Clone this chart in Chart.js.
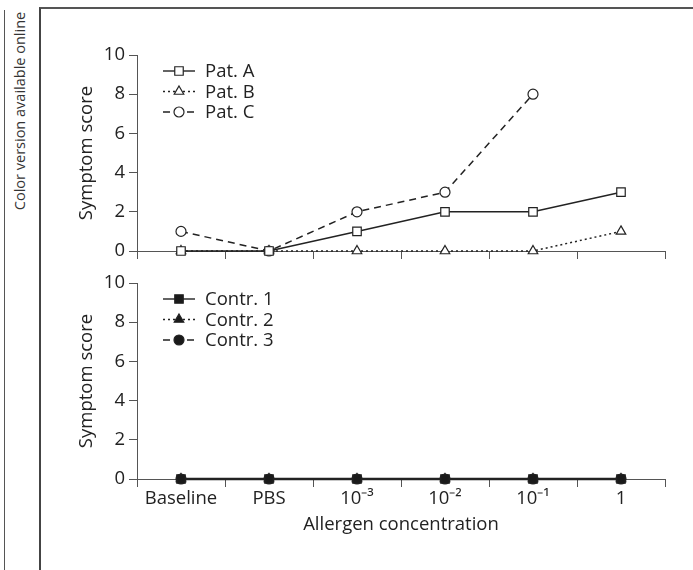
<!DOCTYPE html>
<html>
<head>
<meta charset="utf-8">
<script src="https://cdn.jsdelivr.net/npm/chart.js@4/dist/chart.umd.min.js"></script>
<style>
  body { margin: 0; background: #fff; width: 693px; height: 570px; overflow: hidden; position: relative; font-family: "Open Sans", sans-serif; }
  #strip { position: absolute; left: 4px; top: 10px; height: 570px; border-left: 1.5px solid #555; }
  #frame { position: absolute; left: 39px; top: 7px; width: 660px; height: 570px; border-left: 2px solid #444; border-top: 2px solid #555; }
  #note { position: absolute; left: 19px; top: 111px; transform: translate(-50%, -50%) rotate(-90deg); white-space: nowrap; font-size: 14.5px; color: #333; }
  canvas { position: absolute; left: 0; }
  #upper { top: 0; }
  #lower { top: 260px; }
</style>
</head>
<body>
<div id="strip"></div>
<div id="frame"></div>
<div id="note">Color version available online</div>
<canvas id="upper" width="693" height="290"></canvas>
<canvas id="lower" width="693" height="310"></canvas>
<script>
const categories = ["Baseline", "PBS", "10⁻³", "10⁻²", "10⁻¹", "1"];
const yTicks = [0, 2, 4, 6, 8, 10];

const patA = [0, 0, 1, 2, 2, 3];
const patB = [0, 0, 0, 0, 0, 1];
const patC = [1, 0, 2, 3, 8, null];

const contr1 = [0, 0, 0, 0, 0, 0];
const contr2 = [0, 0, 0, 0, 0, 0];
const contr3 = [0, 0, 0, 0, 0, 0];

const FONT = { family: "'Open Sans', sans-serif", size: 18.5 };
const INK = "#222";
const AXIS = "#555";

function serie(label, data, dash, style, radius, fill, width) {
  return {
    label: label,
    data: data,
    borderColor: INK,
    borderWidth: width,
    borderDash: dash,
    pointStyle: style,
    pointRadius: radius,
    pointBackgroundColor: fill,
    pointBorderColor: INK,
    pointBorderWidth: 1.2,
    clip: false,
    spanGaps: false
  };
}

function drawMarker(ctx, style, x, y, r, fill) {
  ctx.beginPath();
  if (style === "rect") {
    const s = r * Math.SQRT1_2;
    ctx.rect(x - s, y - s, 2 * s, 2 * s);
  } else if (style === "triangle") {
    let a = 0;
    ctx.moveTo(x + Math.sin(a) * r, y - Math.cos(a) * r);
    a += 2 * Math.PI / 3;
    ctx.lineTo(x + Math.sin(a) * r, y - Math.cos(a) * r);
    a += 2 * Math.PI / 3;
    ctx.lineTo(x + Math.sin(a) * r, y - Math.cos(a) * r);
    ctx.closePath();
  } else {
    ctx.arc(x, y, r, 0, 2 * Math.PI);
  }
  ctx.fillStyle = fill;
  ctx.fill();
  ctx.lineWidth = 1.2;
  ctx.strokeStyle = INK;
  ctx.stroke();
}

// legend drawn as line-marker-line samples inside the plot
const sampleLegend = {
  id: "sampleLegend",
  afterDatasetsDraw(chart) {
    const { ctx, chartArea } = chart;
    chart.data.datasets.forEach((ds, i) => {
      const y = chartArea.top + 16 + i * 20.5;
      const x0 = chartArea.left + 26;
      const x1 = chartArea.left + 58;
      ctx.save();
      ctx.strokeStyle = ds.borderColor;
      ctx.lineWidth = 1.4;
      ctx.setLineDash(ds.borderDash);
      ctx.beginPath();
      ctx.moveTo(x0, y);
      ctx.lineTo(x1, y);
      ctx.stroke();
      ctx.setLineDash([]);
      drawMarker(ctx, ds.pointStyle, (x0 + x1) / 2, y, ds.pointRadius, ds.pointBackgroundColor);
      ctx.fillStyle = INK;
      ctx.font = FONT.size + "px " + FONT.family;
      ctx.textBaseline = "middle";
      ctx.textAlign = "left";
      ctx.fillText(ds.label, chartArea.left + 68, y + 1);
      ctx.restore();
    });
  }
};

function makeChart(id, datasets, padTop, bottomH, showLabels) {
  return new Chart(document.getElementById(id), {
    type: "line",
    data: { labels: categories, datasets: datasets },
    plugins: [sampleLegend],
    options: {
      responsive: false,
      animation: false,
      layout: { padding: { left: 60, top: padTop, right: 28, bottom: 0 } },
      plugins: { legend: { display: false }, tooltip: { enabled: false } },
      scales: {
        x: {
          type: "category",
          offset: true,
          grid: { offset: true, drawOnChartArea: false, tickLength: 8, color: AXIS, lineWidth: 1 },
          border: { color: AXIS, width: 1 },
          ticks: { display: showLabels, color: INK, font: FONT, padding: 1, maxRotation: 0, autoSkip: false },
          title: { display: showLabels, text: "Allergen concentration", color: INK, font: FONT, padding: { top: 0, bottom: 34 } },
          afterFit: s => { s.height = bottomH; }
        },
        y: {
          min: 0,
          max: 10,
          afterBuildTicks: s => { s.ticks = yTicks.map(v => ({ value: v })); },
          grid: { drawOnChartArea: false, tickLength: 8, color: AXIS, lineWidth: 1 },
          border: { color: AXIS, width: 1 },
          ticks: { color: INK, font: FONT, padding: 4 },
          title: { display: true, text: "Symptom score", color: INK, font: FONT, padding: { top: 16, bottom: 0 } },
          afterFit: s => { s.width = 77; }
        }
      }
    }
  });
}

makeChart("upper", [
  serie("Pat. A", patA, [], "rect", 6, "#fff", 1.5),
  serie("Pat. B", patB, [2, 3], "triangle", 5.5, "#fff", 1.5),
  serie("Pat. C", patC, [7, 5], "circle", 5, "#fff", 1.5)
], 55, 39, false);

makeChart("lower", [
  serie("Contr. 1", contr1, [], "rect", 6, "#1a1a1a", 2.5),
  serie("Contr. 2", contr2, [2, 3], "triangle", 5.5, "#1a1a1a", 2),
  serie("Contr. 3", contr3, [7, 5], "circle", 5, "#1a1a1a", 2)
], 23, 91, true);
</script>
</body>
</html>
